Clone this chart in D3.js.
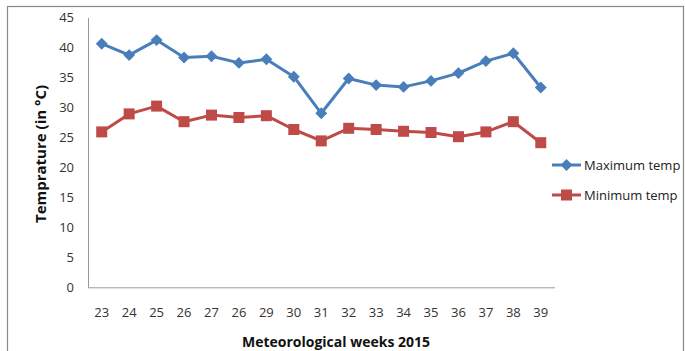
<!DOCTYPE html>
<html><head><meta charset="utf-8">
<script src="https://cdn.jsdelivr.net/npm/d3@7"></script>
<style>body{margin:0;background:#fff}svg{display:block}text{font-family:"Open Sans",Lato,sans-serif}</style>
</head><body>
<svg id="c" width="685" height="351"></svg>
<script>
const weeks = ["23","24","25","26","27","26","29","30","31","32","33","34","35","36","37","38","39"];
const maxTemp = [40.6,38.7,41.2,38.3,38.5,37.4,38.0,35.1,29.0,34.8,33.7,33.4,34.4,35.7,37.7,39.0,33.3];
const minTemp = [25.9,28.9,30.2,27.6,28.7,28.3,28.6,26.3,24.4,26.5,26.3,26.0,25.8,25.1,25.9,27.6,24.1];
const yTicks = [0,5,10,15,20,25,30,35,40,45];
const seriesNames = ["Maximum temp","Minimum temp"];

const svg = d3.select("#c");
svg.append("rect").attr("x",7.5).attr("y",6.5).attr("width",676).attr("height",360)
  .attr("fill","none").attr("stroke","#888").attr("stroke-width",1.2);

const idx = d3.range(weeks.length);
const x = d3.scaleBand().domain(idx).range([88,554.5]);
const y = d3.scaleLinear().domain([0,45]).range([287.3,17.3]);
const cx = i => x(i) + x.bandwidth()/2;

// axes
const yAxis = svg.append("g").attr("transform","translate(88,0)")
  .call(d3.axisLeft(y).tickValues(yTicks).tickSize(0).tickPadding(14));
yAxis.select(".domain").attr("stroke","#999");
yAxis.selectAll("text").attr("font-size",13).attr("fill","#333");

const xAxis = svg.append("g").attr("transform","translate(0,287.3)")
  .call(d3.axisBottom(x).tickFormat(i => weeks[i]).tickSize(0).tickPadding(20));
xAxis.select(".domain").attr("stroke","#999");
xAxis.selectAll("text").attr("font-size",13).attr("fill","#333");

// titles
svg.append("text").attr("x",336).attr("y",347).attr("text-anchor","middle")
  .attr("font-weight","bold").attr("font-size",14).attr("fill","#111").text("Meteorological weeks 2015");
svg.append("text").attr("transform","translate(46,154) rotate(-90)").attr("text-anchor","middle")
  .attr("font-weight","bold").attr("font-size",15).attr("fill","#111").text("Temprature (in °C)");

const colors = ["#4A7EBB","#BE4B48"];
const data = [maxTemp, minTemp];
const line = d3.line().x((d,i)=>cx(i)).y(d=>y(d));

data.forEach((vals,s)=>{
  svg.append("path").datum(vals).attr("d",line).attr("fill","none")
    .attr("stroke",colors[s]).attr("stroke-width",3).attr("stroke-linejoin","round");
  const g = svg.append("g");
  if (s===0) {
    g.selectAll("path").data(vals).join("path")
      .attr("d",d3.symbol(d3.symbolDiamond2,90)())
      .attr("transform",(d,i)=>`translate(${cx(i)},${y(d)})`).attr("fill",colors[s]);
  } else {
    g.selectAll("rect").data(vals).join("rect")
      .attr("x",(d,i)=>cx(i)-5.5).attr("y",d=>y(d)-5.5).attr("width",11).attr("height",11)
      .attr("fill",colors[s]);
  }
});

// legend
const ly = [165,195];
seriesNames.forEach((n,s)=>{
  svg.append("line").attr("x1",552).attr("x2",581).attr("y1",ly[s]).attr("y2",ly[s])
    .attr("stroke",colors[s]).attr("stroke-width",3);
  if (s===0) svg.append("path").attr("d",d3.symbol(d3.symbolDiamond2,90)())
    .attr("transform",`translate(566.5,${ly[s]})`).attr("fill",colors[s]);
  else svg.append("rect").attr("x",561).attr("y",ly[s]-5.5).attr("width",11).attr("height",11).attr("fill",colors[s]);
  svg.append("text").attr("x",584).attr("y",ly[s]).attr("dy","0.35em").attr("font-size",13)
    .attr("fill","#222").text(n);
});
</script>
</body></html>
